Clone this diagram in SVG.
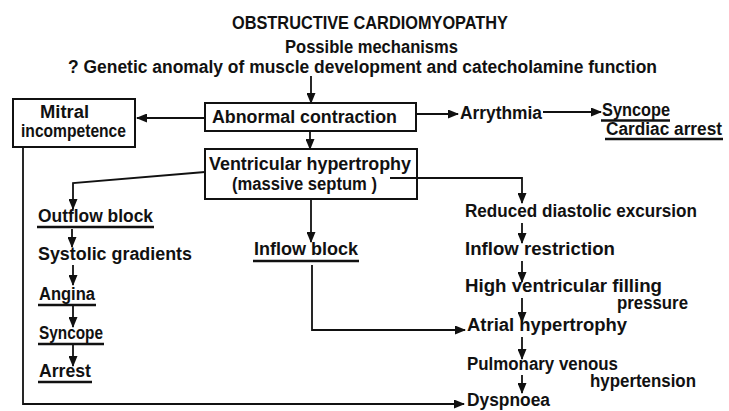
<svg xmlns="http://www.w3.org/2000/svg" width="729" height="411" viewBox="0 0 729 411">
<style>
text{font-family:"Liberation Sans","DejaVu Sans",Arial,sans-serif;font-weight:bold;font-size:17.5px;fill:#111}
.box{fill:none;stroke:#111;stroke-width:2}
.ln{fill:none;stroke:#111;stroke-width:1.8}
.ul{stroke:#111;stroke-width:2.4}
</style>
<defs>
<marker id="ah" markerUnits="userSpaceOnUse" markerWidth="11" markerHeight="9" refX="10" refY="4.5" orient="auto">
<path d="M0,0 L11,4.5 L0,9 z" fill="#111"/>
</marker>
</defs>
<rect width="729" height="411" fill="#fff"/>
<g id="title">
<text x="232" y="29" textLength="276" lengthAdjust="spacingAndGlyphs">OBSTRUCTIVE CARDIOMYOPATHY</text>
<text x="285" y="53" textLength="173" lengthAdjust="spacingAndGlyphs">Possible mechanisms</text>
<text x="68" y="73" textLength="589" lengthAdjust="spacingAndGlyphs">? Genetic anomaly of muscle development and catecholamine function</text>
</g>
<g id="abnormal-contraction">
<rect class="box" x="205" y="103" width="211" height="28"/>
<text x="212" y="123" textLength="185" lengthAdjust="spacingAndGlyphs">Abnormal contraction</text>
</g>
<g id="mitral-incompetence">
<rect class="box" x="13" y="99" width="122" height="48"/>
<text x="40" y="118" textLength="49" lengthAdjust="spacingAndGlyphs">Mitral</text>
<text x="21" y="137" textLength="105" lengthAdjust="spacingAndGlyphs">incompetence</text>
</g>
<g id="ventricular-hypertrophy">
<rect class="box" x="205" y="149" width="212" height="50"/>
<text x="209" y="170" textLength="202" lengthAdjust="spacingAndGlyphs">Ventricular hypertrophy</text>
<text x="232" y="190" textLength="145" lengthAdjust="spacingAndGlyphs">(massive septum )</text>
</g>
<g id="arrythmia">
<text x="460" y="119" textLength="82" lengthAdjust="spacingAndGlyphs">Arrythmia</text>
</g>
<g id="syncope-cardiac-arrest">
<text x="602" y="116" textLength="68" lengthAdjust="spacingAndGlyphs">Syncope</text>
<line class="ul" x1="601" y1="120.5" x2="670" y2="120.5"/>
<text x="606" y="135" textLength="116" lengthAdjust="spacingAndGlyphs">Cardiac arrest</text>
<line class="ul" x1="605" y1="139" x2="723" y2="139"/>
</g>
<g id="outflow-block">
<text x="38" y="222" textLength="115" lengthAdjust="spacingAndGlyphs">Outflow block</text>
<line class="ul" x1="37" y1="227" x2="154" y2="227"/>
</g>
<g id="systolic-gradients">
<text x="38" y="260" textLength="154" lengthAdjust="spacingAndGlyphs">Systolic gradients</text>
</g>
<g id="angina">
<text x="39" y="300" textLength="56" lengthAdjust="spacingAndGlyphs">Angina</text>
<line class="ul" x1="38" y1="305" x2="96" y2="305"/>
</g>
<g id="syncope">
<text x="39" y="339" textLength="64" lengthAdjust="spacingAndGlyphs">Syncope</text>
<line class="ul" x1="38" y1="344" x2="104" y2="344"/>
</g>
<g id="arrest">
<text x="39" y="377" textLength="52" lengthAdjust="spacingAndGlyphs">Arrest</text>
<line class="ul" x1="38" y1="382" x2="92" y2="382"/>
</g>
<g id="inflow-block">
<text x="254" y="255" textLength="104" lengthAdjust="spacingAndGlyphs">Inflow block</text>
<line class="ul" x1="253" y1="261" x2="359" y2="261"/>
</g>
<g id="reduced-diastolic-excursion">
<text x="465" y="217" textLength="232" lengthAdjust="spacingAndGlyphs">Reduced diastolic excursion</text>
</g>
<g id="inflow-restriction">
<text x="465" y="255" textLength="150" lengthAdjust="spacingAndGlyphs">Inflow restriction</text>
</g>
<g id="high-ventricular-filling-pressure">
<text x="465" y="292" textLength="197" lengthAdjust="spacingAndGlyphs">High ventricular filling</text>
<text x="617" y="309" textLength="71" lengthAdjust="spacingAndGlyphs">pressure</text>
</g>
<g id="atrial-hypertrophy">
<text x="467" y="331" textLength="160" lengthAdjust="spacingAndGlyphs">Atrial hypertrophy</text>
</g>
<g id="pulmonary-venous-hypertension">
<text x="467" y="370" textLength="151" lengthAdjust="spacingAndGlyphs">Pulmonary venous</text>
<text x="590" y="387" textLength="106" lengthAdjust="spacingAndGlyphs">hypertension</text>
</g>
<g id="dyspnoea">
<text x="467" y="406" textLength="83" lengthAdjust="spacingAndGlyphs">Dyspnoea</text>
</g>
<g id="connectors" class="ln">
<path class="ln" marker-end="url(#ah)" d="M311,76 V103"/>
<path class="ln" marker-end="url(#ah)" d="M205,118 H137"/>
<path class="ln" marker-end="url(#ah)" d="M416,114 H458"/>
<path class="ln" marker-end="url(#ah)" d="M543,112 H601"/>
<path class="ln" marker-end="url(#ah)" d="M310,131 V149"/>
<path class="ln" marker-end="url(#ah)" d="M205,172 L73,183 V209"/>
<path class="ln" marker-end="url(#ah)" d="M390,178 H522 V203"/>
<path class="ln" marker-end="url(#ah)" d="M311,199 V242"/>
<path class="ln" marker-end="url(#ah)" d="M312,265 V330 H465"/>
<path class="ln" marker-end="url(#ah)" d="M23,147 V404 H464"/>
<path class="ln" marker-end="url(#ah)" d="M72,229 V247"/>
<path class="ln" marker-end="url(#ah)" d="M73,265 V285"/>
<path class="ln" marker-end="url(#ah)" d="M73,306 V327"/>
<path class="ln" marker-end="url(#ah)" d="M73,345 V366"/>
<path class="ln" marker-end="url(#ah)" d="M522,223 V243"/>
<path class="ln" marker-end="url(#ah)" d="M522,261 V282"/>
<path class="ln" marker-end="url(#ah)" d="M522,298 V322"/>
<path class="ln" marker-end="url(#ah)" d="M522,337 V359"/>
<path class="ln" marker-end="url(#ah)" d="M522,375 V393"/>
</g>
</svg>
